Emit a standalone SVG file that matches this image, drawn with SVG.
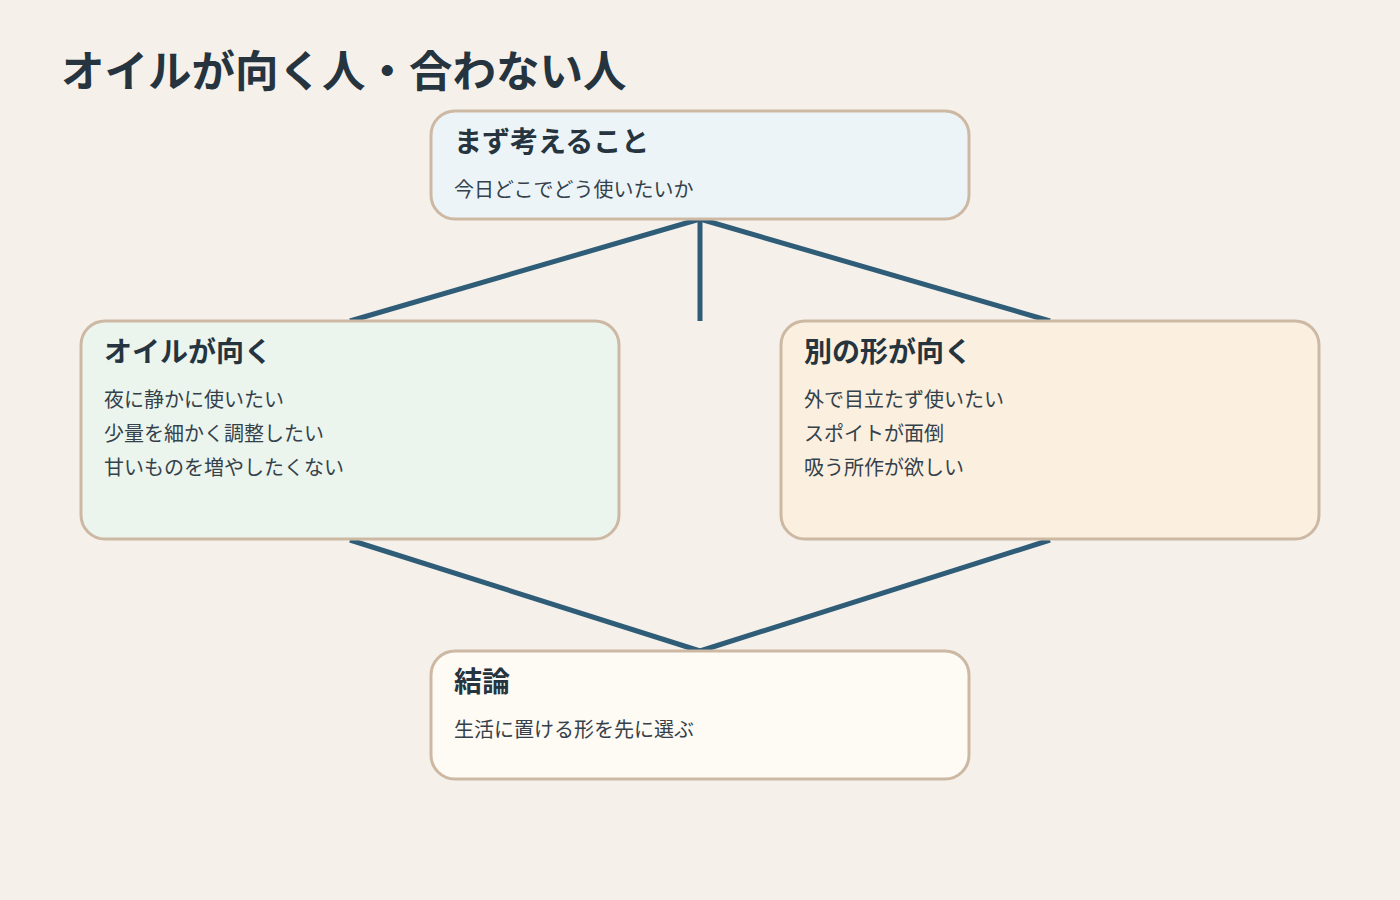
<svg xmlns="http://www.w3.org/2000/svg" width="1400" height="900" viewBox="0 0 1400 900">
<style>
.t{font-family:"Noto Sans CJK JP","Noto Sans",sans-serif;fill:#25343e}
.h1{font-size:43.5px;font-weight:700}
.h2{font-size:28px;font-weight:700}
.b{font-size:20px;fill:#34414b}
.box{stroke:#cdb9a3;stroke-width:3}
.c{stroke:#2f5d78;stroke-width:5;fill:none}
</style>
<rect width="1400" height="900" fill="#f5f1ea"/>
<text class="t h1" x="61" y="87">オイルが向く人・合わない人</text>
<g id="connectors">
<line class="c" x1="700" y1="219" x2="350" y2="321"/>
<line class="c" x1="700" y1="219" x2="700" y2="321"/>
<line class="c" x1="700" y1="219" x2="1050" y2="321"/>
<line class="c" x1="350" y1="540" x2="700" y2="651"/>
<line class="c" x1="1050" y1="540" x2="700" y2="651"/>
</g>
<g id="node-start">
<rect class="box" x="431" y="111" width="538" height="108" rx="24" fill="#ecf4f7"/>
<text class="t h2" x="454" y="152">まず考えること</text>
<text class="t b" x="454" y="197">今日どこでどう使いたいか</text>
</g>
<g id="node-oil">
<rect class="box" x="81" y="321" width="538" height="218" rx="24" fill="#ebf5ee"/>
<text class="t h2" x="104" y="362">オイルが向く</text>
<text class="t b" x="104" y="407">夜に静かに使いたい</text>
<text class="t b" x="104" y="441">少量を細かく調整したい</text>
<text class="t b" x="104" y="475">甘いものを増やしたくない</text>
</g>
<g id="node-other">
<rect class="box" x="781" y="321" width="538" height="218" rx="24" fill="#fbf0df"/>
<text class="t h2" x="804" y="362">別の形が向く</text>
<text class="t b" x="804" y="407">外で目立たず使いたい</text>
<text class="t b" x="804" y="441">スポイトが面倒</text>
<text class="t b" x="804" y="475">吸う所作が欲しい</text>
</g>
<g id="node-conclusion">
<rect class="box" x="431" y="651" width="538" height="128" rx="24" fill="#fefaf4"/>
<text class="t h2" x="454" y="692">結論</text>
<text class="t b" x="454" y="737">生活に置ける形を先に選ぶ</text>
</g>
</svg>
